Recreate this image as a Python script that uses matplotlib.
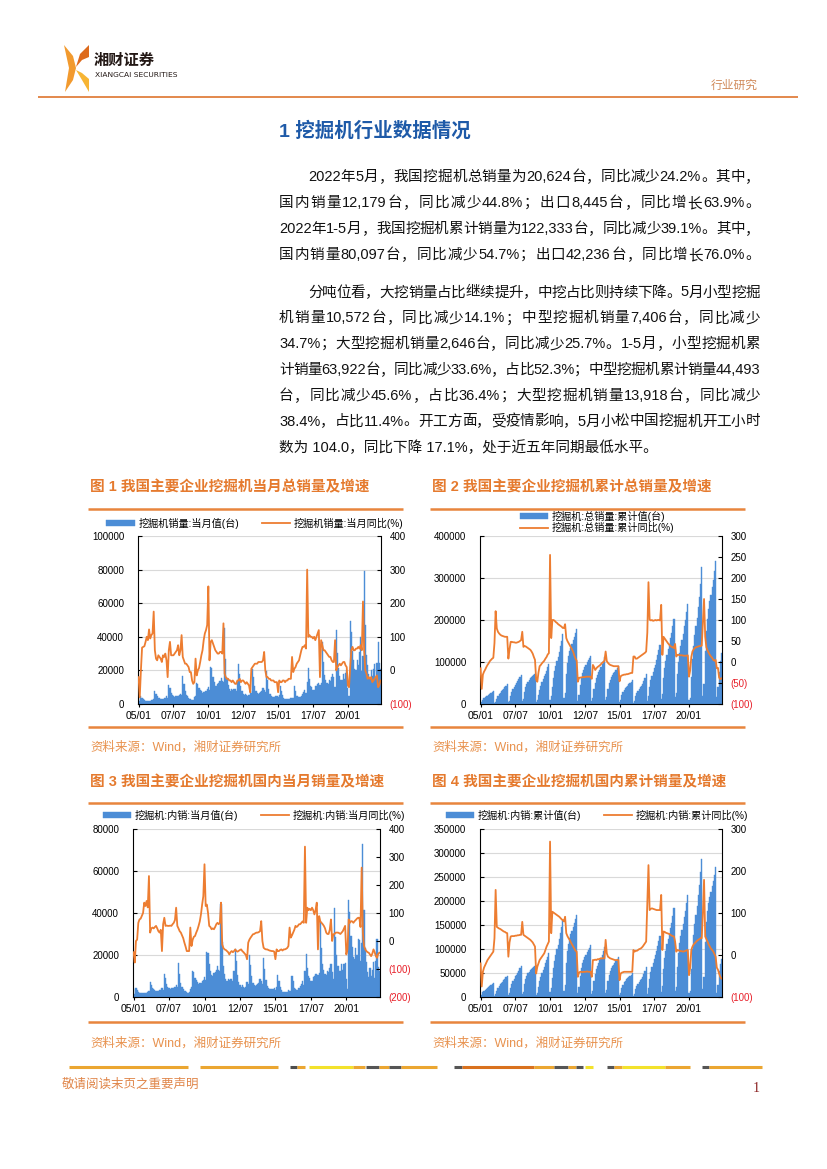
import re
import matplotlib
matplotlib.use('Agg')

import numpy as np
import pandas as pd
import matplotlib.pyplot as plt
from matplotlib.patches import Polygon
from matplotlib.lines import Line2D

plt.rcParams['font.family'] = ['Liberation Sans', 'Noto Sans CJK SC', 'DejaVu Sans']

# ---------------- data ----------------
months = pd.period_range('2005-01', '2022-05', freq='M')

# excavator sales, monthly, units (total)
total_monthly = [
    3800, 1500, 4500, 3500, 2700, 2200, 1900, 1800, 1800, 1900, 2000, 2200,
    2500, 3000, 7500, 6000, 4500, 3800, 3300, 3000, 3100, 3200, 3300, 3500,
    4500, 3500, 11500, 9500, 6500, 5500, 4800, 4300, 4600, 5000, 5000, 5200,
    6000, 5500, 16500, 12000, 7500, 5500, 4500, 3500, 3200, 2700, 2300, 2500,
    4000, 5000, 12500, 12000, 9500, 8500, 7500, 6500, 7000, 7000, 7800, 8700,
    10000, 8500, 22000, 21500, 16000, 13000, 11000, 10500, 12000, 12500, 13500, 15500,
    13500, 13000, 45000, 27000, 15500, 11500, 9000, 8000, 9000, 8500, 9000, 9000,
    8000, 13000, 24000, 18000, 11000, 7500, 6000, 5500, 6000, 5500, 5000, 5500,
    7500, 6500, 21000, 16000, 10500, 7500, 6500, 6000, 6500, 7000, 7500, 9500,
    8500, 7000, 19500, 14000, 9000, 6000, 4800, 4300, 4200, 4300, 4600, 5000,
    4000, 5500, 11000, 8000, 5500, 3800, 3000, 2800, 3000, 2900, 3100, 3700,
    3500, 3500, 11000, 8000, 5000, 4500, 4000, 4200, 5000, 6000, 7000, 8600,
    6500, 13000, 21500, 15000, 11000, 10000, 8500, 8500, 10500, 11000, 12000, 12300,
    11500, 12500, 37000, 25000, 17000, 14500, 12500, 12000, 14000, 13500, 16000, 17900,
    16000, 10000, 44300, 30300, 21500, 16500, 14000, 14500, 17700, 15000, 18300, 20500,
    9500, 5000, 49400, 43000, 31500, 26000, 21000, 20000, 26000, 23000, 31000, 40000,
    19600, 28300, 79000, 47000, 29100, 23100, 18000, 15200, 20100, 16700, 21100, 24000,
    15600, 24500, 37100, 24500, 20600,
]

# domestic sales, monthly, units
dom_monthly = [
    3700, 1400, 4400, 3400, 2600, 2100, 1800, 1700, 1700, 1800, 1900, 2100,
    2400, 2900, 7300, 5800, 4300, 3600, 3100, 2800, 2900, 3000, 3100, 3300,
    4200, 3300, 11000, 9000, 6000, 5000, 4300, 3800, 4100, 4500, 4500, 4700,
    5500, 5000, 16000, 11000, 6800, 4800, 3900, 3000, 2800, 2400, 2100, 2300,
    3800, 4800, 12200, 11700, 9200, 8200, 7200, 6200, 6700, 6700, 7500, 8300,
    9700, 8200, 21600, 21000, 15500, 12500, 10500, 10000, 11500, 12000, 13000, 15000,
    13000, 12500, 44500, 26000, 15000, 11000, 8500, 7500, 8500, 8000, 8500, 8500,
    7500, 12500, 23000, 17200, 10400, 7000, 5500, 5000, 5500, 5000, 4500, 5000,
    7000, 6000, 20000, 15300, 9800, 6900, 5900, 5400, 5900, 6300, 6800, 8800,
    7800, 6400, 18500, 13200, 8300, 5400, 4200, 3700, 3600, 3700, 3900, 4300,
    3400, 4900, 10300, 7400, 4900, 3200, 2400, 2200, 2400, 2300, 2500, 3100,
    2900, 2900, 10200, 7400, 4400, 3800, 3300, 3500, 4300, 5200, 6200, 7700,
    5800, 12200, 20500, 14000, 10000, 9000, 7500, 7500, 9300, 9800, 10800, 11000,
    10500, 11500, 35500, 23500, 15600, 13000, 11000, 10500, 12300, 11800, 14000, 15800,
    12000, 8800, 42400, 28500, 19800, 14900, 12300, 12600, 15800, 13000, 15800, 16000,
    8500, 4000, 46000, 40700, 29200, 24000, 19000, 18000, 23500, 20000, 27500, 27000,
    17000, 25600, 73000, 41400, 23100, 16500, 11900, 9500, 13800, 9900, 12700, 16500,
    8900, 17000, 27700, 14300, 12200,
]

# YoY %, total, single month
total_yoy_month = [
    -20, -80, 0, 68, 70, 72, 85, 100, 90, 122, 95, 105,
    110, 175, 60, 35, 30, 45, 40, 35, 25, 45, 40, 50,
    30, -20, 60, 85, 45, 45, 45, 50, 55, 60, 75, 45,
    60, 105, 40, 30, 20, 20, 15, 10, -5, -5, -30, -40,
    -35, 35, -15, 0, 7, 25, 45, 60, 90, 110, 120, 135,
    250, 30, 85, 90, 80, 70, 60, 55, 50, 50, 55, 55,
    50, 140, -10, -20, -25, -25, -30, -30, -35, -30, -35, -40,
    -40, -30, -30, -25, -35, -30, -30, -35, -40, -35, -40, -45,
    -65, 5, 10, 15, 20, 20, 20, 25, 25, 25, 25, 30,
    55, 0, -20, -20, -25, -25, -30, -30, -30, -35, -35, -35,
    -65, -30, -35, -35, -30, -30, -35, -30, -30, -25, -25, -25,
    40, -5, 5, 10, 20, 25, 30, 45, 60, 70, 70, 75,
    65, 300, 100, 105, 100, 100, 95, 100, 90, 100, 110, 120,
    -20, 90, 75, 60, 60, 55, 50, 45, 40, 40, 30, 25,
    25, 90, 0, 10, 15, 20, 15, 20, 25, 25, 15, 10,
    -45, -50, 10, 60, 70, 60, 60, 65, 65, 70, 65, 75,
    60, 205, 60, 0, -10, -25, -20, -25, -20, -35, -30, -25,
    -20, -15, -50, -45, -30,
]

# YoY %, total, year to date
total_yoy_ytd = [
    -15, -64, -30, -23, -18, -12, -7, -3, 2, 5, 8, 10,
    45, 121, 80, 72, 68, 65, 63, 62, 61, 60, 60, 60,
    8, 30, 48, 48, 47, 47, 46, 46, 47, 48, 50, 52,
    72, 36, 38, 37, 35, 33, 31, 29, 25, 20, 12, 5,
    -42, -47, -25, -10, -7, -3, 0, 3, 8, 12, 18, 21,
    255, 57, 100, 100, 98, 95, 93, 90, 88, 86, 84, 81,
    81, 90, 57, 50, 45, 40, 35, 30, 24, 15, 8, 3,
    -47, -38, -37, -37, -36, -36, -36, -35, -35, -35, -35, -35,
    -40, -7, -12, -19, -15, -12, -10, -8, -5, -2, 0, 3,
    25, 2, -2, -5, -7, -8, -9, -10, -10, -10, -10, -10,
    -46, -34, -32, -31, -30, -30, -29, -29, -28, -27, -26, -26,
    13, 13, 8, 8, 10, 12, 14, 16, 18, 20, 22, 25,
    70, 190, 101, 99, 100, 98, 99, 100, 99, 100, 100, 99,
    136, 17, 60, 56, 52, 48, 44, 41, 38, 36, 35, 33,
    43, 13, 17, 17, 16, 16, 16, 15, 15, 15, 15, 16,
    -35, -20, 12, 25, 30, 33, 35, 36, 37, 38, 38, 39,
    97, 150, 60, 35, 28, 22, 17, 13, 10, 5, 3, 5,
    -15, -14, -37, -41, -39,
]

# YoY %, domestic, single month
dom_yoy_month = [
    -40, -77, 0, 5, 65, 77, 80, 90, 100, 137, 125, 143,
    120, 232, 30, 45, 48, 45, 50, 54, 45, 35, 30, 40,
    -36, 60, 83, 54, 55, 54, 54, 55, 54, 60, 65, 75,
    119, 54, 45, 35, 30, 20, 10, -6, -20, -36, -36, -36,
    48, -18, 5, 15, 18, 30, 40, 54, 70, 95, 130, 160,
    274, 125, 130, 100, 54, 50, 42, 45, 42, 50, 60, 65,
    60, 65, 137, -12, -25, -30, -32, -36, -40, -48, -40, -36,
    -40, -36, -30, -36, -38, -35, -32, -30, -36, -40, -45, -50,
    -65, -6, 5, 12, 18, 24, 25, 28, 30, 30, 32, 35,
    71, 0, -24, -28, -30, -30, -32, -34, -35, -36, -36, -38,
    -65, -30, -36, -36, -32, -30, -34, -30, -30, -28, -25, -18,
    48, 12, 20, 30, 40, 54, 50, 54, 60, 60, 65, 70,
    65, 337, 65, 119, 110, 115, 110, 119, 110, 95, 110, 137,
    -30, 89, 70, 65, 60, 54, 45, 30, 25, 25, 40, 77,
    0, 24, 25, 30, 30, 30, 28, 25, 30, 35, 45, 54,
    -48, -30, 77, 65, 71, 70, 65, 71, 75, 80, 83, 83,
    50, 262, 30, -18, -30, -36, -40, -42, -48, -54, -45, -30,
    -40, -54, -60, -45, -42,
]

# YoY %, domestic, year to date
dom_yoy_ytd = [
    -20, -75, -40, -30, -24, -18, -12, -8, -4, 0, 4, 8,
    40, 155, 67, 65, 63, 62, 60, 58, 56, 55, 53, 52,
    -4, 30, 44, 45, 45, 45, 46, 46, 47, 47, 48, 48,
    79, 48, 46, 44, 42, 40, 38, 36, 33, 30, 25, 20,
    -44, -28, -20, -12, -8, -4, 0, 4, 12, 20, 26, 32,
    270, 52, 103, 101, 99, 97, 95, 93, 91, 88, 85, 83,
    80, 91, 52, 45, 40, 36, 30, 25, 20, 15, 10, 8,
    -52, -42, -40, -40, -41, -40, -40, -40, -39, -40, -40, -40,
    -52, -12, -12, -11, -12, -10, -10, -9, -8, -8, -8, -8,
    36, 4, -4, -6, -8, -9, -10, -11, -12, -12, -12, -12,
    -60, -44, -42, -41, -40, -40, -40, -40, -40, -40, -40, -40,
    12, 8, 10, 10, 12, 14, 15, 17, 20, 24, 28, 32,
    120, 214, 107, 110, 111, 110, 109, 108, 107, 107, 107, 107,
    143, 12, 56, 55, 53, 52, 51, 50, 48, 46, 45, 44,
    32, 8, 12, 11, 10, 9, 9, 8, 9, 10, 11, 12,
    -48, -30, 12, 20, 25, 28, 31, 34, 36, 38, 40, 40,
    100, 179, 44, 38, 32, 25, 20, 15, 12, 8, 2, -4,
    -30, -35, -44, -52, -56,
]

tick_months = ['2005-01', '2007-07', '2010-01', '2012-07', '2015-01', '2017-07', '2020-01']

df = pd.DataFrame({
    'total': total_monthly, 'dom': dom_monthly,
    'total_yoy': total_yoy_month, 'total_ytd_yoy': total_yoy_ytd,
    'dom_yoy': dom_yoy_month, 'dom_ytd_yoy': dom_yoy_ytd,
}, index=months)
df['total_ytd'] = df.groupby(df.index.year)['total'].cumsum()
df['dom_ytd'] = df.groupby(df.index.year)['dom'].cumsum()

# ---------------- page ----------------
W, H = 827, 1169
fig = plt.figure(figsize=(8.27, 11.69), dpi=100)


def fx(x):
    return x / W


def fy(y):
    return 1 - y / H


BLUE = '#4C8DD6'
ORANGE = '#ED7D31'
DECO = '#E8853D'
TITLE_OR = '#E57A2E'
SRC_OR = '#E8924E'


def hline(x0, x1, y, color=DECO, lw=1.8):
    fig.add_artist(Line2D([fx(x0), fx(x1)], [fy(y), fy(y)], color=color, lw=lw,
                          solid_capstyle='butt'))


# header
fig.add_artist(Polygon([(fx(64), fy(45)), (fx(73), fy(56)), (fx(76), fy(68)), (fx(73), fy(80)),
                        (fx(65), fy(92)), (fx(69), fy(68))], closed=True, color='#F29A2E', lw=0))
fig.add_artist(Polygon([(fx(89), fy(45)), (fx(80), fy(54)), (fx(76), fy(67)), (fx(82), fy(60)),
                        (fx(89), fy(57))], closed=True, color='#DD6A1C', lw=0))
fig.add_artist(Polygon([(fx(76), fy(70)), (fx(82), fy(80)), (fx(89), fy(92)), (fx(89), fy(79)),
                        (fx(82), fy(73))], closed=True, color='#F7B534', lw=0))
fig.text(fx(94), fy(60), '湘财证券', fontsize=11, fontweight='bold', color='#231815',
         va='center', family=['Noto Sans CJK SC'])
fig.text(fx(95), fy(75), 'XIANGCAI SECURITIES', fontsize=5.4, color='#231815', va='center',
         family=['Liberation Sans Narrow', 'DejaVu Sans'])
fig.text(fx(758), fy(85), '行业研究', fontsize=8.5, color='#D08A5A', ha='right', va='center',
         family=['Noto Sans CJK SC'])
hline(38, 798, 97, color='#E07F3E', lw=1.3)

# section title
fig.text(fx(279), fy(131), '1 挖掘机行业数据情况', fontsize=14, fontweight='bold',
         color='#1E5AA8', va='center')

renderer = fig.canvas.get_renderer()


def justified(text, x0, x1, y, size=10.5, justify=True):
    if not justify:
        fig.text(fx(x0), fy(y), text, fontsize=size, va='center', color='#111111')
        return
    tokens = re.findall(r'[0-9A-Za-z.,%\-]+|\S', text)
    widths = []
    for t in tokens:
        tt = fig.text(0, 0, t, fontsize=size)
        widths.append(tt.get_window_extent(renderer).width)
        tt.remove()
    gap = (x1 - x0 - sum(widths)) / (len(tokens) - 1)
    x = x0
    for t, w in zip(tokens, widths):
        fig.text(fx(x), fy(y), t, fontsize=size, va='center', color='#111111')
        x += w + gap


para1 = [
    '2022 年 5 月，我国挖掘机总销量为 20,624 台，同比减少 24.2%。其中，',
    '国内销量 12,179 台，同比减少 44.8%；出口 8,445 台，同比增长 63.9%。',
    '2022 年 1-5 月，我国挖掘机累计销量为 122,333 台，同比减少 39.1%。其中，',
    '国内销量 80,097 台，同比减少 54.7%；出口 42,236 台，同比增长 76.0%。',
]
para2 = [
    '分吨位看，大挖销量占比继续提升，中挖占比则持续下降。5 月小型挖掘',
    '机销量 10,572 台，同比减少 14.1%；中型挖掘机销量 7,406 台，同比减少',
    '34.7%；大型挖掘机销量 2,646 台，同比减少 25.7%。1-5 月，小型挖掘机累',
    '计销量 63,922 台，同比减少 33.6%，占比 52.3%；中型挖掘机累计销量 44,493',
    '台，同比减少 45.6%，占比 36.4%；大型挖掘机销量 13,918 台，同比减少',
    '38.4%，占比 11.4%。开工方面，受疫情影响，5 月小松中国挖掘机开工小时',
    '数为 104.0，同比下降 17.1%，处于近五年同期最低水平。',
]
for i, line in enumerate(para1):
    justified(line, 308 if i == 0 else 279, 760, 177 + 26 * i)
for i, line in enumerate(para2):
    justified(line, 308 if i == 0 else 279, 760, 292.5 + 25.8 * i, justify=i < len(para2) - 1)

# ---------------- charts ----------------
xs = np.arange(len(df))
month_keys = list(df.index.strftime('%Y-%m'))
tick_pos = [month_keys.index(m) for m in tick_months]
tick_lab = [df.index[p].strftime('%y/%m') for p in tick_pos]


def neg_fmt(v):
    v = int(round(v))
    return '0' if v == 0 else (f'({abs(v)})' if v < 0 else str(v))


def chart(box, bar_col, line_col, ylim, ystep, y2lim, y2step, labels, legend_xy, ncol):
    left, right, top, bottom = box
    ax = fig.add_axes([fx(left), fy(bottom), fx(right) - fx(left), fy(top) - fy(bottom)])
    bars = ax.bar(xs, df[bar_col], width=1.0, color=BLUE, edgecolor=BLUE, linewidth=0.3)
    ax.set_xlim(-0.5, len(df) - 0.5)
    yt = np.arange(ylim[0], ylim[1] + 1, ystep)
    ax.set_ylim(*ylim)
    ax.set_yticks(yt)
    ax.set_yticklabels([str(int(v)) for v in yt])
    ax.grid(axis='y', color='#D9D9D9', lw=0.8)
    ax.set_axisbelow(True)
    ax.set_xticks(tick_pos)
    ax.set_xticklabels(tick_lab)
    ax.tick_params(axis='x', direction='out', length=2, labelsize=7.5, pad=3)
    ax.tick_params(axis='y', direction='in', length=3, labelsize=7, pad=10)
    ax.spines['top'].set_visible(False)
    ax.spines['right'].set_visible(False)

    ax2 = ax.twinx()
    line, = ax2.plot(xs, df[line_col], color=ORANGE, lw=1.3)
    y2t = np.arange(y2lim[0], y2lim[1] + 1, y2step)
    ax2.set_ylim(*y2lim)
    ax2.set_yticks(y2t)
    ax2.set_yticklabels([neg_fmt(v) for v in y2t])
    for lab, v in zip(ax2.get_yticklabels(), y2t):
        if v < 0:
            lab.set_color('#E8202A')
    ax2.tick_params(axis='y', direction='in', length=3, labelsize=7, pad=6)
    for s in ('top', 'left', 'bottom'):
        ax2.spines[s].set_visible(False)
    for a in (ax, ax2):
        for s in a.spines.values():
            s.set_linewidth(0.8)
            s.set_color('black')

    fig.legend([bars, line], labels, loc='center', ncol=ncol,
               bbox_to_anchor=(fx(legend_xy[0]), fy(legend_xy[1])),
               frameon=False, fontsize=7.3, handlelength=2.8, handleheight=0.6,
               handletextpad=0.4, columnspacing=2.2, labelspacing=0.05,
               borderpad=0, borderaxespad=0)


chart((138, 381, 536, 704), 'total', 'total_yoy', (0, 100000), 20000, (-100, 400), 100,
      ['挖掘机销量:当月值(台)', '挖掘机销量:当月同比(%)'], (255, 523), 2)
chart((480, 722, 536, 704), 'total_ytd', 'total_ytd_yoy', (0, 400000), 100000, (-100, 300), 50,
      ['挖掘机:总销量:累计值(台)', '挖掘机:总销量:累计同比(%)'], (597, 522), 1)
chart((133, 380, 829, 997), 'dom', 'dom_yoy', (0, 80000), 20000, (-200, 400), 100,
      ['挖掘机:内销:当月值(台)', '挖掘机:内销:当月同比(%)'], (254, 815), 2)
chart((480, 722, 829, 997), 'dom_ytd', 'dom_ytd_yoy', (0, 350000), 50000, (-100, 300), 100,
      ['挖掘机:内销:累计值(台)', '挖掘机:内销:累计同比(%)'], (597, 815), 2)

# figure titles, rules and sources
titles = [
    (90, 487, '图 1 我国主要企业挖掘机当月总销量及增速'),
    (432, 487, '图 2 我国主要企业挖掘机累计总销量及增速'),
    (90, 782, '图 3 我国主要企业挖掘机国内当月销量及增速'),
    (432, 782, '图 4 我国主要企业挖掘机国内累计销量及增速'),
]
for x, y, t in titles:
    fig.text(fx(x), fy(y), t, fontsize=10.5, fontweight='bold', color=TITLE_OR, va='center')
for x0, x1 in ((88, 403), (430, 745)):
    for y in (509, 727, 803, 1022):
        hline(x0, x1, y)
    for y in (747, 1043):
        fig.text(fx(x0 + 2), fy(y), '资料来源：Wind，湘财证券研究所', fontsize=9,
                 color=SRC_OR, va='center')

# footer
footer_bar = [
    (69, 188, '#EBA631'), (200, 278, '#EBA631'), (290, 297, '#4D4D4D'), (297, 305, '#EBA631'),
    (309, 353, '#F3E22C'), (353, 365, '#EBA631'), (366, 379, '#555555'), (379, 389, '#EBA631'),
    (389, 401, '#555555'), (401, 437, '#EBA631'), (454, 462, '#555555'), (462, 534, '#D9711E'),
    (534, 554, '#EBA631'), (554, 568, '#555555'), (568, 576, '#EBA631'), (576, 583, '#555555'),
    (585, 593, '#F3E22C'), (607, 614, '#555555'), (614, 622, '#EBA631'), (622, 665, '#F3E22C'),
    (665, 690, '#EBA631'), (702, 709, '#555555'), (709, 762, '#EBA631'),
]
for x0, x1, c in footer_bar:
    hline(x0, x1, 1067, color=c, lw=2.2)
fig.text(fx(62), fy(1084), '敬请阅读末页之重要声明', fontsize=9, color='#E0864A', va='center',
         family=['Noto Sans CJK SC'])
fig.text(fx(753), fy(1088), '1', fontsize=10, color='#8B2323', va='center',
         family=['Liberation Serif'])

fig.savefig('out.png', dpi=100)
